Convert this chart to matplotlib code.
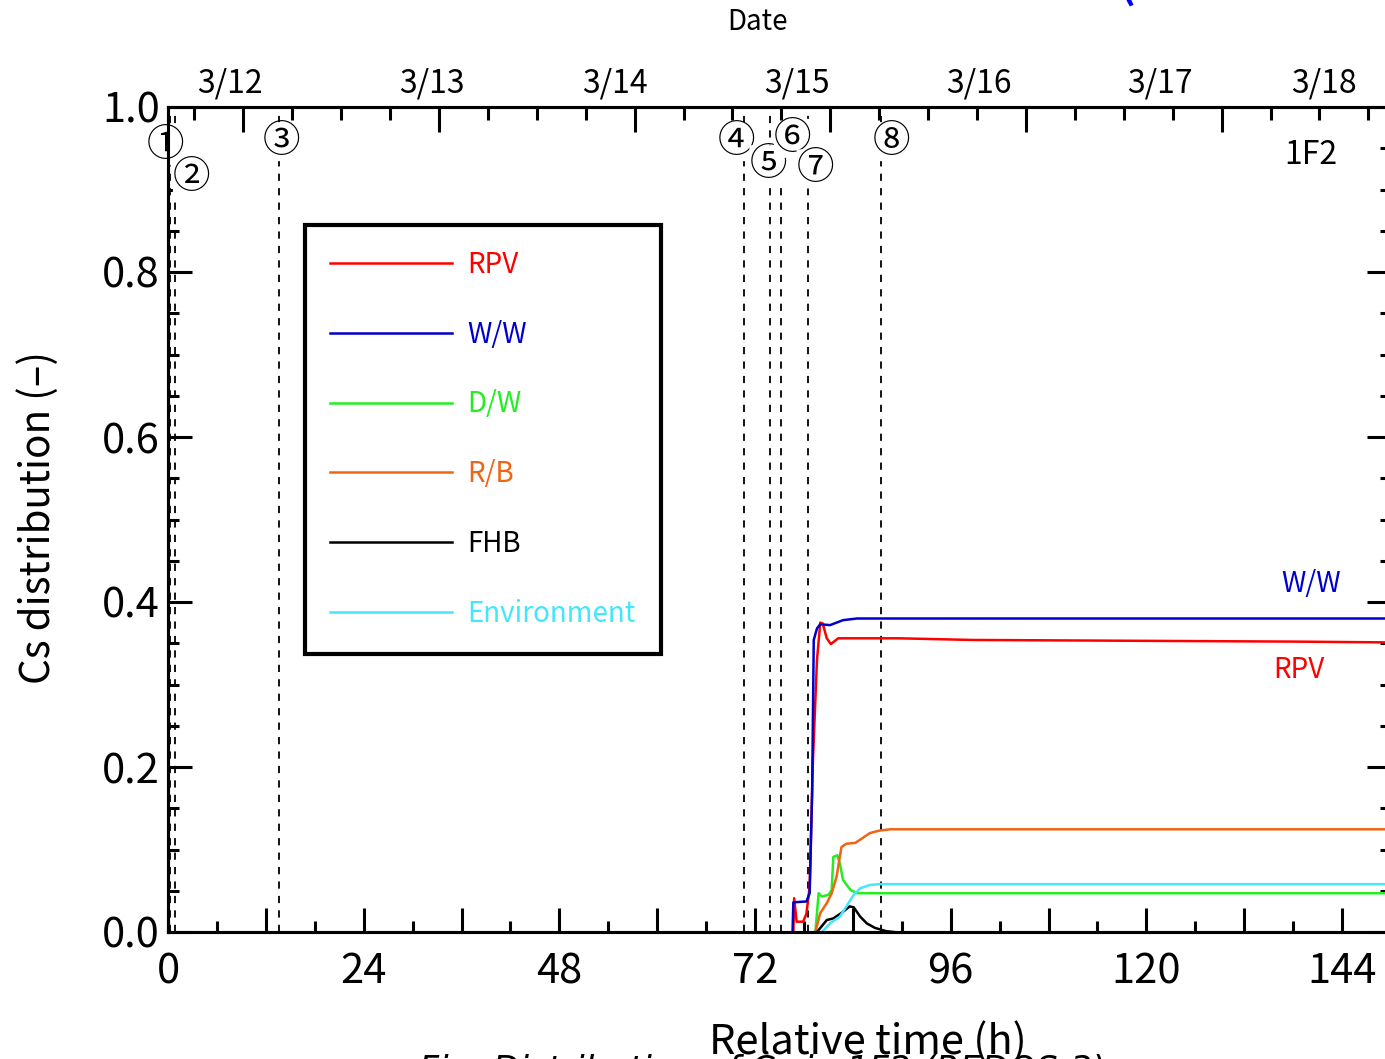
import matplotlib
matplotlib.use('Agg')
import matplotlib.pyplot as plt
from matplotlib.ticker import MultipleLocator, FixedLocator, FuncFormatter

# relative time (h) and Cs fraction
rpv_t = [76.7, 76.8, 77.1, 77.9, 78.3, 78.7, 79.1, 79.6, 80.0, 80.3, 80.8, 81.3, 82.2, 89.6, 98.6, 138.0, 150.0]
rpv_y = [0.0, 0.041, 0.0125, 0.0125, 0.022, 0.055, 0.208, 0.33, 0.375, 0.374, 0.356, 0.349, 0.356, 0.356, 0.354, 0.352, 0.351]

ww_t = [76.6, 76.7, 78.3, 78.7, 79.0, 79.2, 79.6, 80.0, 81.2, 82.8, 84.5, 150.0]
ww_y = [0.0, 0.036, 0.037, 0.047, 0.168, 0.354, 0.368, 0.373, 0.372, 0.378, 0.380, 0.380]

dw_t = [79.4, 79.8, 80.2, 81.0, 81.4, 81.6, 82.1, 82.4, 82.8, 83.7, 84.5, 150.0]
dw_y = [0.0, 0.047, 0.043, 0.045, 0.051, 0.091, 0.093, 0.083, 0.063, 0.051, 0.047, 0.047]

rb_t = [79.4, 80.0, 80.8, 81.4, 82.0, 82.6, 83.2, 84.3, 84.9, 86.1, 87.3, 88.6, 150.0]
rb_y = [0.0, 0.023, 0.035, 0.047, 0.067, 0.103, 0.107, 0.108, 0.112, 0.120, 0.123, 0.1245, 0.1245]

fhb_t = [79.6, 80.8, 81.6, 82.6, 83.6, 84.1, 84.9, 85.7, 86.7, 88.1, 89.0]
fhb_y = [0.0, 0.0145, 0.0165, 0.023, 0.031, 0.030, 0.0186, 0.0105, 0.005, 0.001, 0.0]

env_t = [80.2, 81.2, 82.4, 83.2, 84.1, 84.9, 86.1, 87.3, 150.0]
env_y = [0.0, 0.0105, 0.0186, 0.031, 0.045, 0.053, 0.057, 0.058, 0.058]

# events (vertical dashed lines) and their marks
event_t = [0.3, 0.85, 13.6, 70.6, 73.8, 75.2, 78.5, 87.4]
event_marks = ['①', '②', '③', '④', '⑤', '⑥', '⑦', '⑧']
mark_x = [-0.25, 2.9, 13.9, 69.7, 73.6, 76.6, 79.4, 88.7]
mark_y = [0.953, 0.914, 0.958, 0.958, 0.930, 0.962, 0.925, 0.958]

dates = ['3/12', '3/13', '3/14', '3/15', '3/16', '3/17', '3/18']
date_x = [7.6, 32.4, 54.8, 77.1, 99.4, 121.7, 141.8]
midnight0 = 9.23  # 3/12 0:00 in relative hours

narrow = ['Liberation Sans Narrow', 'Noto Sans CJK JP', 'DejaVu Sans']
jp = ['Noto Sans CJK JP', 'DejaVu Sans']

W, H = 1385, 1059
fig = plt.figure(figsize=(W / 100, H / 100), dpi=100)
ax = fig.add_axes([168 / W, 1 - 932 / H, (1391 - 168) / W, (932 - 107) / H])

ev_style = dict(color='black', lw=1.3, ls=(0, (4, 4)), zorder=1)
for t in event_t:
    ax.axvline(t, **ev_style)

l1, = ax.plot(rpv_t, rpv_y, color='#ff0000', lw=1.8, label='RPV')
l2, = ax.plot(ww_t, ww_y, color='#0000cc', lw=1.8, label='W/W')
l3, = ax.plot(dw_t, dw_y, color='#22ee22', lw=1.8, label='D/W')
l4, = ax.plot(rb_t, rb_y, color='#f06414', lw=1.8, label='R/B')
l5, = ax.plot(fhb_t, fhb_y, color='black', lw=1.8, label='FHB')
l6, = ax.plot(env_t, env_y, color='#44e6ff', lw=1.8, label='Environment')

for m, x, y in zip(event_marks, mark_x, mark_y):
    ax.text(x, y, m, ha='center', va='center', fontsize=27, family=jp, zorder=5,
            bbox=dict(boxstyle='round,pad=0', fc='white', ec='none'))

ax.set_xlim(0, 150)
ax.set_ylim(0, 1.0)

for s in ax.spines.values():
    s.set_linewidth(2.2)

ax.xaxis.set_major_locator(MultipleLocator(12))
ax.xaxis.set_minor_locator(MultipleLocator(6))
ax.xaxis.set_major_formatter(FuncFormatter(lambda v, p: '%d' % v if round(v) % 24 == 0 else ''))
ax.yaxis.set_major_locator(MultipleLocator(0.2))
ax.yaxis.set_minor_locator(MultipleLocator(0.05))
ax.yaxis.set_major_formatter(FuncFormatter(lambda v, p: '%.1f' % v))
ax.tick_params(axis='both', which='major', direction='in', length=17, width=2.2)
ax.tick_params(axis='both', which='minor', direction='in', length=8, width=2.2)
ax.tick_params(axis='y', which='both', right=True)
ax.tick_params(axis='x', which='both', top=False, pad=14)
ax.tick_params(axis='y', which='both', pad=6)
for lab in ax.get_xticklabels() + ax.get_yticklabels():
    lab.set_family(narrow)
    lab.set_fontsize(30)

top = ax.twiny()
top.set_xlim(ax.get_xlim())
top.xaxis.set_major_locator(FixedLocator([midnight0 + 24 * k for k in range(7)]))
top.xaxis.set_minor_locator(FixedLocator([midnight0 - 6 + 6 * k for k in range(26)]))
top.tick_params(axis='x', which='major', direction='in', length=18, width=2.2, labeltop=False)
top.tick_params(axis='x', which='minor', direction='in', length=9, width=2.2)
for s in top.spines.values():
    s.set_linewidth(2.2)

for d, x in zip(dates, date_x):
    ax.text(x, 1.029, d, transform=ax.get_xaxis_transform(), ha='center', va='center',
            fontsize=23, family=narrow)

ax.text(140.2, 0.942, '1F2', ha='center', va='center', fontsize=23, family=narrow)
ax.text(140.2, 0.422, 'W/W', ha='center', va='center', fontsize=20, family=jp, color='#0000cc')
ax.text(138.7, 0.318, 'RPV', ha='center', va='center', fontsize=20, family=jp, color='#ff0000')

leg = ax.legend(handles=[l1, l2, l3, l4, l5, l6], loc='upper left',
                bbox_to_anchor=(305 / W, 1 - 225 / H), bbox_transform=fig.transFigure,
                borderaxespad=0, fancybox=False, framealpha=1, edgecolor='black',
                prop={'family': jp, 'size': 20}, labelcolor='linecolor',
                handlelength=4.4, handletextpad=0.55, labelspacing=1.43, borderpad=0.9)
leg.get_frame().set_linewidth(3)
for h in leg.get_lines():
    h.set_linewidth(1.8)

fig.text(38 / W, 1 - 518 / H, 'Cs distribution (–)', rotation=90, ha='center', va='center',
         fontsize=29, family=jp)
fig.text(757 / W, 1 - 22 / H, 'Date', ha='center', va='center', fontsize=20, family=narrow)
fig.text(868 / W, 1 - 1042 / H, 'Relative time (h)', ha='center', va='center', fontsize=30, family=narrow)
fig.text(762 / W, 1 - 1071 / H, 'Fig. Distribution of Cs in 1F2 (REDOS-3)', ha='center', va='center',
         fontsize=25, family='DejaVu Sans', style='italic')
fig.text(1127 / W, 1 - 8 / H, '(', ha='center', va='bottom', fontsize=30, color='#0000ff',
         fontweight='bold', family=jp)

fig.savefig('out.png', dpi=100)
